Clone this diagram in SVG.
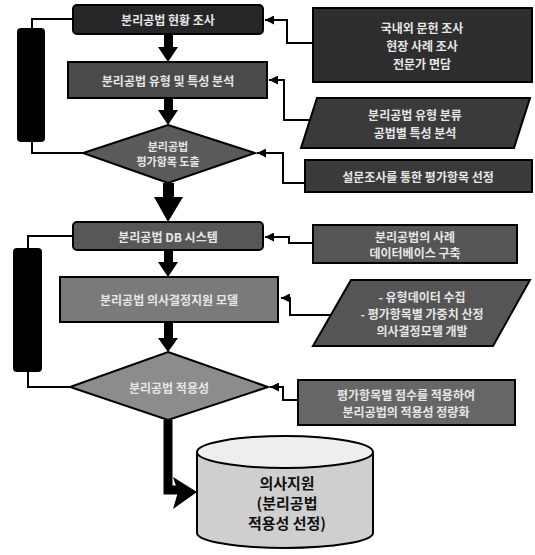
<svg xmlns="http://www.w3.org/2000/svg" width="535" height="555" viewBox="0 0 535 555">
<defs>
<style>
.t{font-family:"Noto Sans CJK KR","Noto Sans",sans-serif;font-weight:bold;text-anchor:middle;dominant-baseline:central}
.lt{fill:#e6e6e6;font-size:12px}
.dk{fill:#111;font-size:15px}
.ln{fill:none;stroke:#000;stroke-width:2}
.bx{stroke:#000;stroke-width:2}
</style>
<marker id="sa" viewBox="0 0 10 10" refX="10" refY="5" markerWidth="11" markerHeight="9" orient="auto" markerUnits="userSpaceOnUse">
<path d="M0,0 L10,5 L0,10 z" fill="#000"/>
</marker>
</defs>

<g id="connectors">
<rect x="164" y="34" width="9" height="14" fill="#000"/>
<path d="M158,47 L178,47 L168,62 z" fill="#000"/>
<rect x="164" y="98" width="9" height="13" fill="#000"/>
<path d="M158,110 L178,110 L168,125 z" fill="#000"/>
<rect x="163" y="183" width="11" height="16" fill="#000"/>
<path d="M154,197 L183,197 L168,222 z" fill="#000"/>
<rect x="164" y="250" width="9" height="13" fill="#000"/>
<path d="M158,262 L178,262 L168,277 z" fill="#000"/>
<rect x="164" y="322" width="9" height="17" fill="#000"/>
<path d="M158,338 L178,338 L168,352 z" fill="#000"/>
<path d="M168,420 L168,490 L178,490" fill="none" stroke="#000" stroke-width="9"/>
<path d="M173,477 L197,492 L173,509 L178,492 z" fill="#000"/>
<path class="ln" d="M73,19 L32,19 L32,28"/>
<path class="ln" d="M32,142 L32,153 L83,153"/>
<path class="ln" d="M73,236 L28,236 L28,248"/>
<path class="ln" d="M28,372 L28,387 L70,387"/>
<path class="ln" d="M313,43 L287,43 L287,20 L265,20" marker-end="url(#sa)"/>
<path class="ln" d="M310,120 L284,120 L284,80 L269,80" marker-end="url(#sa)"/>
<path class="ln" d="M305,183 L283,183 L283,153 L257,153" marker-end="url(#sa)"/>
<path class="ln" d="M313,243 L289,243 L289,237 L265,237" marker-end="url(#sa)"/>
<path class="ln" d="M333,315 L290,315 L290,298 L281,298" marker-end="url(#sa)"/>
<path class="ln" d="M298,400 L283,400 L283,387 L270,387" marker-end="url(#sa)"/>
</g>

<g id="bar1"><rect x="17" y="28" width="28" height="114" rx="4" fill="#000"/></g>
<g id="bar2"><rect x="13" y="248" width="29" height="124" rx="4" fill="#000"/></g>

<g id="boxA">
<rect class="bx" x="73" y="5" width="190" height="29" rx="4" fill="#262626"/>
<text class="t lt" x="168" y="19.5">분리공법 현황 조사</text>
</g>
<g id="boxB">
<rect class="bx" x="68" y="62" width="199" height="36" fill="#4a4a4a"/>
<text class="t lt" x="168" y="80">분리공법 유형 및 특성 분석</text>
</g>
<g id="dia1">
<path class="bx" d="M168,125 L255,153 L168,183 L83,153 z" fill="#5a5a5a"/>
<text class="t lt" x="168" y="146" style="font-size:11px">분리공법</text>
<text class="t lt" x="168" y="161" style="font-size:11px">평가항목 도출</text>
</g>
<g id="boxR1">
<rect class="bx" x="313" y="8" width="219" height="74" fill="#2e2e2e"/>
<text class="t lt" x="422" y="27">국내외 문헌 조사</text>
<text class="t lt" x="422" y="45">현장 사례 조사</text>
<text class="t lt" x="422" y="63">전문가 면담</text>
</g>
<g id="boxR2">
<path class="bx" d="M317,98 L530,98 L514,148 L301,148 z" fill="#3a3a3a"/>
<text class="t lt" x="415" y="114">분리공법 유형 분류</text>
<text class="t lt" x="415" y="132">공법별 특성 분석</text>
</g>
<g id="boxR3">
<rect class="bx" x="305" y="160" width="227" height="32" fill="#3a3a3a"/>
<text class="t lt" x="418" y="176">설문조사를 통한 평가항목 선정</text>
</g>

<g id="boxC">
<rect class="bx" x="73" y="222" width="190" height="28" rx="4" fill="#575757"/>
<text class="t lt" x="168" y="236">분리공법 DB 시스템</text>
</g>
<g id="boxD">
<rect class="bx" x="60" y="277" width="218" height="45" fill="#7a7a7a"/>
<text class="t lt" x="169" y="299.5">분리공법 의사결정지원 모델</text>
</g>
<g id="dia2">
<path class="bx" d="M168,352 L268,387 L168,420 L70,387 z" fill="#8c8c8c"/>
<text class="t lt" x="169" y="387">분리공법 적용성</text>
</g>
<g id="boxR4">
<rect class="bx" x="313" y="225" width="204" height="38" fill="#555"/>
<text class="t lt" x="415" y="236">분리공법의 사례</text>
<text class="t lt" x="415" y="252">데이터베이스 구축</text>
</g>
<g id="boxR5">
<path class="bx" d="M351,280 L530,280 L493,346 L313,346 z" fill="#555"/>
<text class="t lt" x="422" y="296">- 유형데이터 수집</text>
<text class="t lt" x="422" y="313">- 평가항목별 가중치 산정</text>
<text class="t lt" x="422" y="330">의사결정모델 개발</text>
</g>
<g id="boxR6">
<rect class="bx" x="298" y="380" width="217" height="45" fill="#666"/>
<text class="t lt" x="406" y="394">평가항목별 점수를 적용하여</text>
<text class="t lt" x="406" y="411">분리공법의 적용성 정량화</text>
</g>

<g id="cyl">
<path class="bx" d="M197,452 L197,533 A88,15 0 0 0 373,533 L373,452" fill="#cfcfcf"/>
<ellipse class="bx" cx="285" cy="452" rx="88" ry="16" fill="#eee"/>
<text class="t dk" x="287" y="482">의사지원</text>
<text class="t dk" x="287" y="502">(분리공법</text>
<text class="t dk" x="287" y="522">적용성 선정)</text>
</g>
</svg>
